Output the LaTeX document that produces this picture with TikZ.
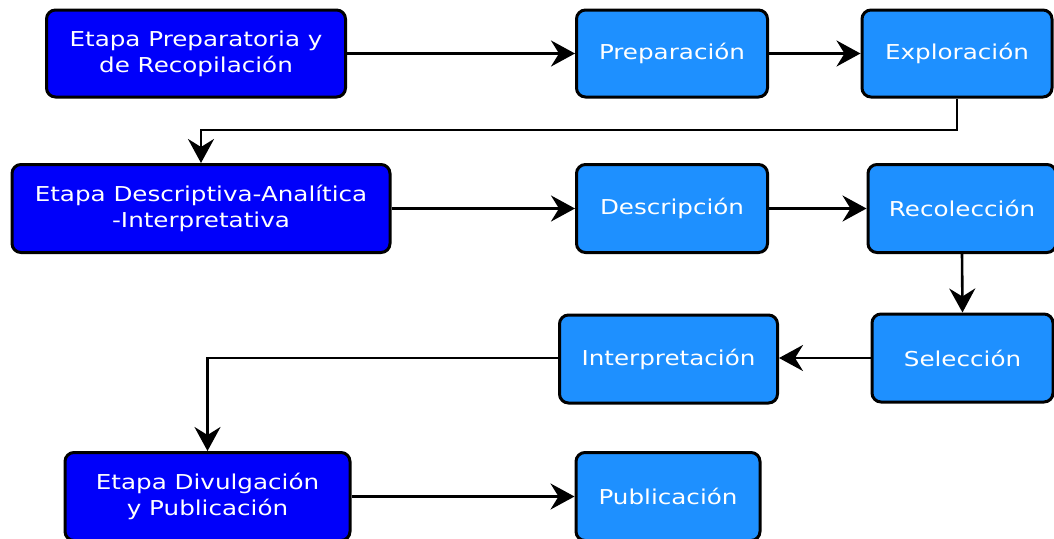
\documentclass[tikz,border=0pt]{standalone}
\usepackage{fontspec}
\setmainfont{DejaVu Sans}[FakeStretch=1.2]
\usetikzlibrary{arrows.meta}
\definecolor{stagec}{RGB}{0,0,250}
\definecolor{stepc}{RGB}{30,144,255}
\tikzset{
  boxbase/.style={draw=black, line width=3pt, rounded corners=9pt, text=white, align=center, inner sep=0pt,
    font=\fontsize{20.5}{26}\selectfont},
  stagebox/.style={boxbase, fill=stagec},
  stepbox/.style={boxbase, fill=stepc},
  conn/.style={line width=2.6pt, -{Stealth[length=24pt,width=26pt,inset=8pt]}}
}
\begin{document}
\begin{tikzpicture}[x=1pt,y=-1pt]
\useasboundingbox (0,0) rectangle (1054,538);
\fill[white] (0,0) rectangle (1054,538);
% row 1
\node[stagebox, minimum width=299pt, minimum height=87pt] (s1) at (196,53.5) {Etapa Preparatoria y\\de Recopilación};
\node[stepbox, minimum width=191pt, minimum height=87pt] (prep) at (672,53.5) {Preparación};
\node[stepbox, minimum width=190pt, minimum height=87pt] (expl) at (957,53.5) {Exploración};
% row 2
\node[stagebox, minimum width=378pt, minimum height=88pt] (s2) at (201,208.5) {Etapa Descriptiva-Analítica\\-Interpretativa};
\node[stepbox, minimum width=191pt, minimum height=88pt] (desc) at (672,208.5) {Descripción};
\node[stepbox, minimum width=188pt, minimum height=88pt] (reco) at (962,208.5) {Recolección};
% row 3
\node[stepbox, minimum width=218pt, minimum height=88pt] (interp) at (668.5,359) {Interpretación};
\node[stepbox, minimum width=181pt, minimum height=88pt] (sel) at (962.5,358) {Selección};
% row 4
\node[stagebox, minimum width=285pt, minimum height=88pt] (s3) at (207.5,496.5) {Etapa Divulgación\\y Publicación};
\node[stepbox, minimum width=184pt, minimum height=88pt] (pub) at (668,496.5) {Publicación};
% connectors
\draw[conn] (s1.east) -- (prep.west);
\draw[conn] (prep.east) -- (expl.west);
\coordinate (c1) at (957,130);
\coordinate (c2) at (201,130);
\draw[conn] (expl.south) -- (c1) -- (c2) -- (s2.north);
\draw[conn] (s2.east) -- (desc.west);
\draw[conn] (desc.east) -- (reco.west);
\draw[conn] (reco.south) -- (sel.north);
\draw[conn] (sel.west) -- (interp.east |- sel.west);
\coordinate (c3) at (207.5,358);
\draw[conn] (interp.west |- c3) -- (c3) -- (s3.north);
\draw[conn] (s3.east |- pub.west) -- (pub.west);
\end{tikzpicture}
\end{document}
